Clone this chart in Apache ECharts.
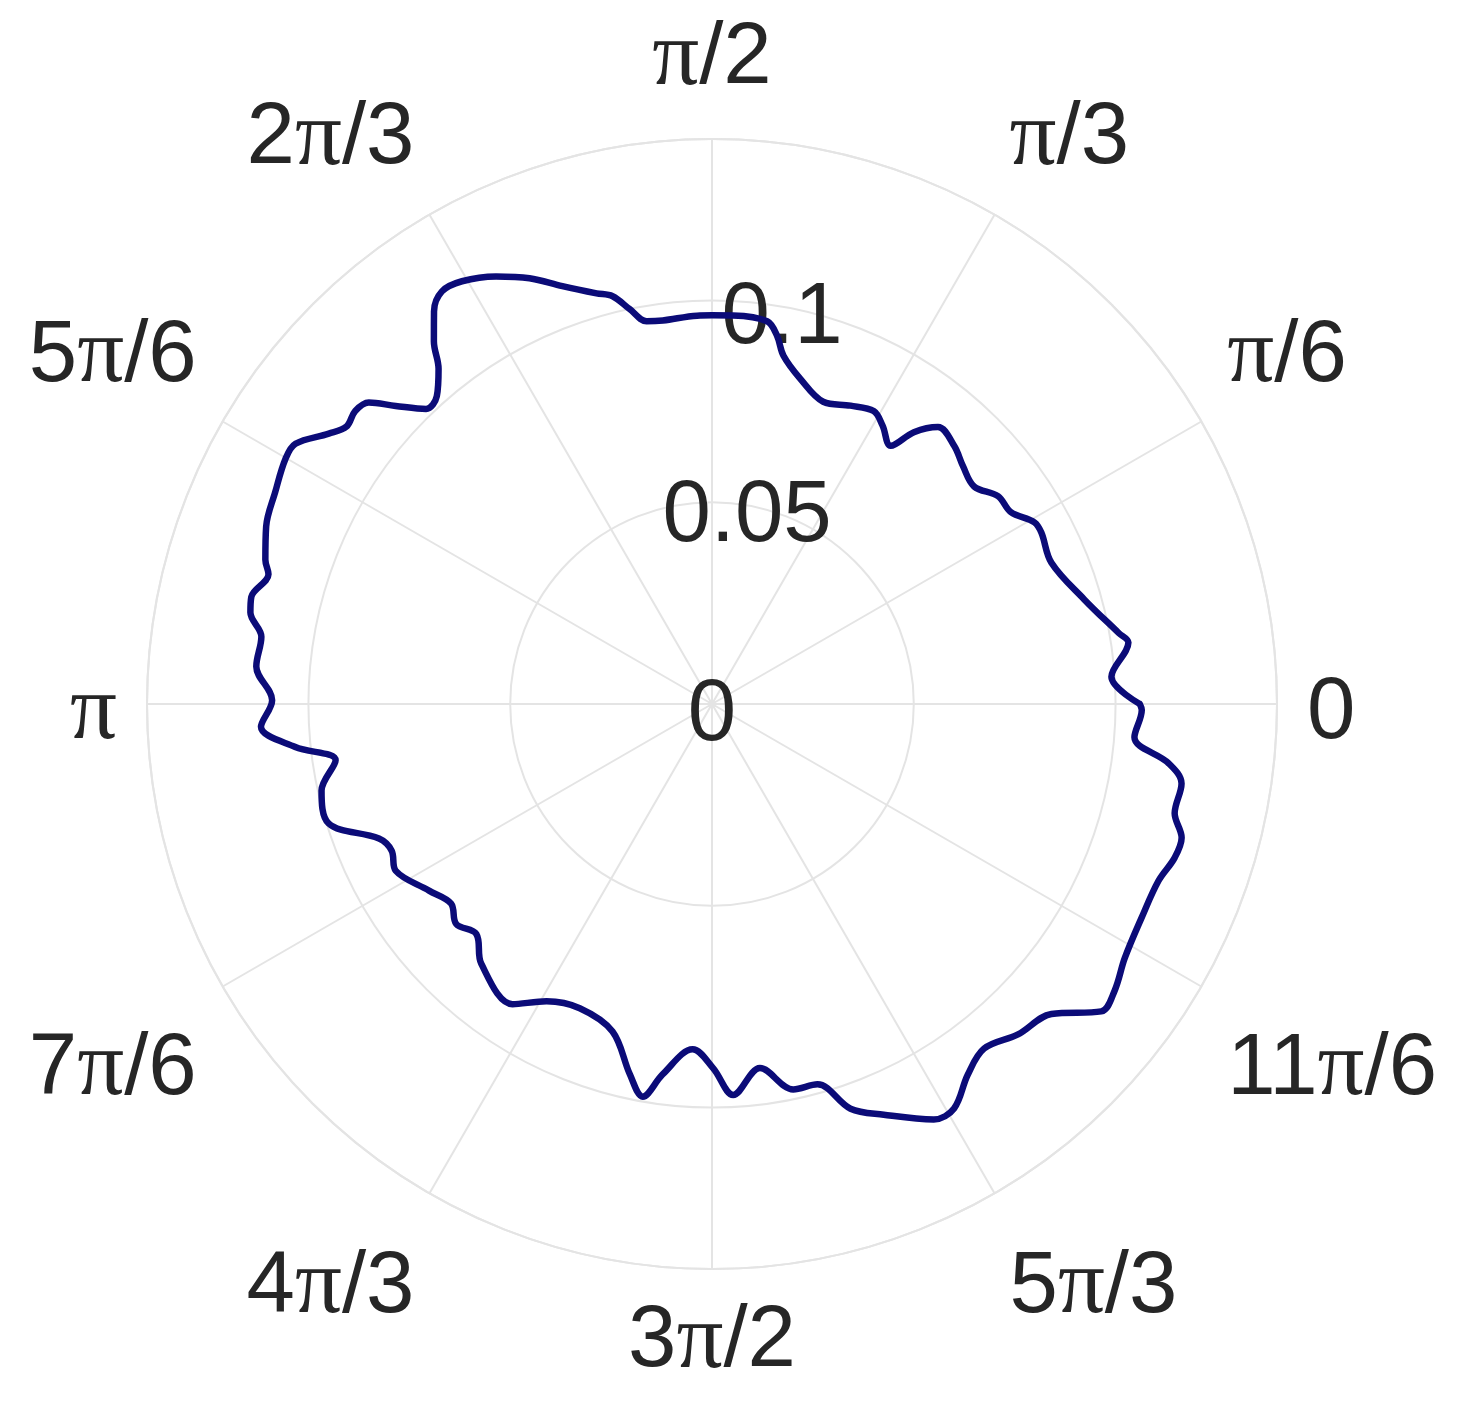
<!DOCTYPE html>
<html><head><meta charset="utf-8">
<script src="https://cdn.jsdelivr.net/npm/echarts@6/dist/echarts.min.js"></script>
<style>html,body{margin:0;padding:0;background:#fff}#c{width:1471px;height:1414px}</style>
</head><body><div id="c"></div>
<script>
const angleTickLabels = ['0','π/6','π/3','π/2','2π/3','5π/6','π','7π/6','4π/3','3π/2','5π/3','11π/6'];
const radiusTickValues = [0, 0.05, 0.1];
const radiusTickLabels = ['0','0.05','0.1'];
const thetaDeg = [0, 3.9, 8.4, 9.9, 15.7, 22.6, 27.5, 29.4, 32.7, 36.0, 39.7, 43.5, 46.8, 50.8, 53.4,
  55.3, 58.5, 61.1, 65.1, 69.8, 74.8, 78.4, 80.0, 81.8, 86.9, 90, 92.2, 97.3, 99.7, 101.8,
  103.7, 105.7, 109.7, 113.2, 116.8, 120.6, 123.2, 125.3, 127.5, 129.2, 131.8, 134.1, 136.7, 138.7, 140.6,
  142.8, 144.8, 148.0, 150.1, 154.1, 158.3, 162.1, 163.7, 166.9, 168.8, 171.5, 175.3, 179.5, 182.9, 185.9,
  188.5, 192.5, 197.3, 202.0, 204.6, 207.8, 213.4, 217.4, 220.7, 224.3, 228.4, 236.4, 240.9, 246.5, 253.1,
  257.5, 260.0, 262.4, 266.8, 270.2, 273.1, 277.5, 281.9, 285.5, 288.9, 292.7, 298.1, 300.9, 304.6, 308.3,
  312.8, 317.6, 321.7, 324.5, 328.4, 333.5, 338.4, 341.6, 344.1, 346.7, 350.4, 352.6, 355.5, 359.2, 360];
const rValues = [0.1060, 0.0992, 0.1043, 0.1023, 0.0958, 0.0911, 0.0920, 0.0917, 0.0880, 0.0876, 0.0844, 0.0857, 0.0877, 0.0886, 0.0839,
  0.0778, 0.0809, 0.0829, 0.0815, 0.0798, 0.0835, 0.0881, 0.0927, 0.0958, 0.0964, 0.0963, 0.0963, 0.0958, 0.0962, 0.1000,
  0.1040, 0.1057, 0.1100, 0.1148, 0.1187, 0.1217, 0.1222, 0.1192, 0.1132, 0.1072, 0.1023, 0.1018, 0.1077, 0.1132, 0.1144,
  0.1137, 0.1162, 0.1217, 0.1219, 0.1203, 0.1189, 0.1163, 0.1145, 0.1172, 0.1166, 0.1129, 0.1133, 0.1090, 0.1119, 0.1038,
  0.0943, 0.0991, 0.0995, 0.0890, 0.0873, 0.0886, 0.0840, 0.0814, 0.0836, 0.0816, 0.0861, 0.0893, 0.0843, 0.0822, 0.0848,
  0.0940, 0.0988, 0.0926, 0.0857, 0.0903, 0.0970, 0.0910, 0.0976, 0.0978, 0.1060, 0.1103, 0.1167, 0.1168, 0.1116, 0.1088,
  0.1116, 0.1139, 0.1229, 0.1225, 0.1201, 0.1189, 0.1190, 0.1208, 0.1210, 0.1178, 0.1180, 0.1141, 0.1050, 0.1065, 0.1060];

const TXT = '#262626', GRID = '#e4e4e4', FS = 87;
function richLabel(txt, suf) {
  return txt.split('π').map(s => s ? `{n${suf}|${s}}` : '').join(`{p${suf}|π}`);
}
const rich = {};
[['', 87, 0], ['U', 99, 0], ['L', 137, 0], ['M', 87, 20]].forEach(([s, lh, pt]) => {
  rich['n' + s] = {fontFamily: 'Liberation Sans', fontSize: FS, color: TXT, lineHeight: lh, padding: [pt, 0, 0, 0]};
  rich['p' + s] = {fontFamily: 'Liberation Serif', fontSize: FS + 6, color: TXT, lineHeight: lh, padding: [pt, 0, 0, 0]};
});
const richR = {
  r: {fontFamily: 'Liberation Sans', fontSize: FS, color: TXT, lineHeight: 87, padding: [24, 0, 0, 0]}
};

const chart = echarts.init(document.getElementById('c'), null, {renderer: 'canvas'});
chart.setOption({
  animation: false,
  backgroundColor: '#ffffff',
  polar: [
    {center: [712, 704], radius: 565},
    {center: [712, 704], radius: 565}
  ],
  angleAxis: [
    {
      polarIndex: 0, type: 'value', min: 0, max: 360, interval: 30, startAngle: 0, clockwise: false,
      axisLine: {show: true, lineStyle: {color: GRID, width: 2}},
      axisTick: {show: false},
      splitLine: {show: true, lineStyle: {color: GRID, width: 2}},
      axisLabel: {
        show: true, margin: 30, rich: rich,
        formatter: function (v) {
          const i = Math.round(v / 30);
          if (i >= 12) return '';
          let suf = '';
          if (i >= 1 && i <= 5) suf = 'U';
          else if (i === 7 || i === 8 || i === 10 || i === 11) suf = 'L';
          else if (i === 0 || i === 6) suf = 'M';
          return richLabel(angleTickLabels[i], suf);
        }
      }
    },
    {
      polarIndex: 1, type: 'value', min: 0, max: 360, interval: 30, startAngle: 80, clockwise: false,
      show: false
    }
  ],
  radiusAxis: [
    {
      polarIndex: 0, type: 'value', min: 0, max: 0.14, interval: 0.05,
      axisLine: {show: false}, axisTick: {show: false}, axisLabel: {show: false},
      splitLine: {show: true, lineStyle: {color: GRID, width: 2}}
    },
    {
      polarIndex: 1, type: 'value', min: 0, max: 0.14, interval: 0.05,
      axisLine: {show: false}, axisTick: {show: false}, splitLine: {show: false},
      axisLabel: {
        show: true, margin: 0, align: 'center', verticalAlign: 'middle',
        rich: richR,
        showMaxLabel: false,
        formatter: function (v) {
          for (let k = 0; k < radiusTickValues.length; k++) {
            if (Math.abs(v - radiusTickValues[k]) < 1e-9) return '{r|' + radiusTickLabels[k] + '}';
          }
          return '';
        }
      }
    }
  ],
  series: [{
    type: 'line', coordinateSystem: 'polar', polarIndex: 0,
    data: thetaDeg.map((t, i) => [rValues[i], t]),
    showSymbol: false, smooth: 0.35,
    lineStyle: {color: '#0b0b78', width: 6.5, cap: 'round', join: 'round'},
    z: 3
  }]
});
</script>
</body></html>
